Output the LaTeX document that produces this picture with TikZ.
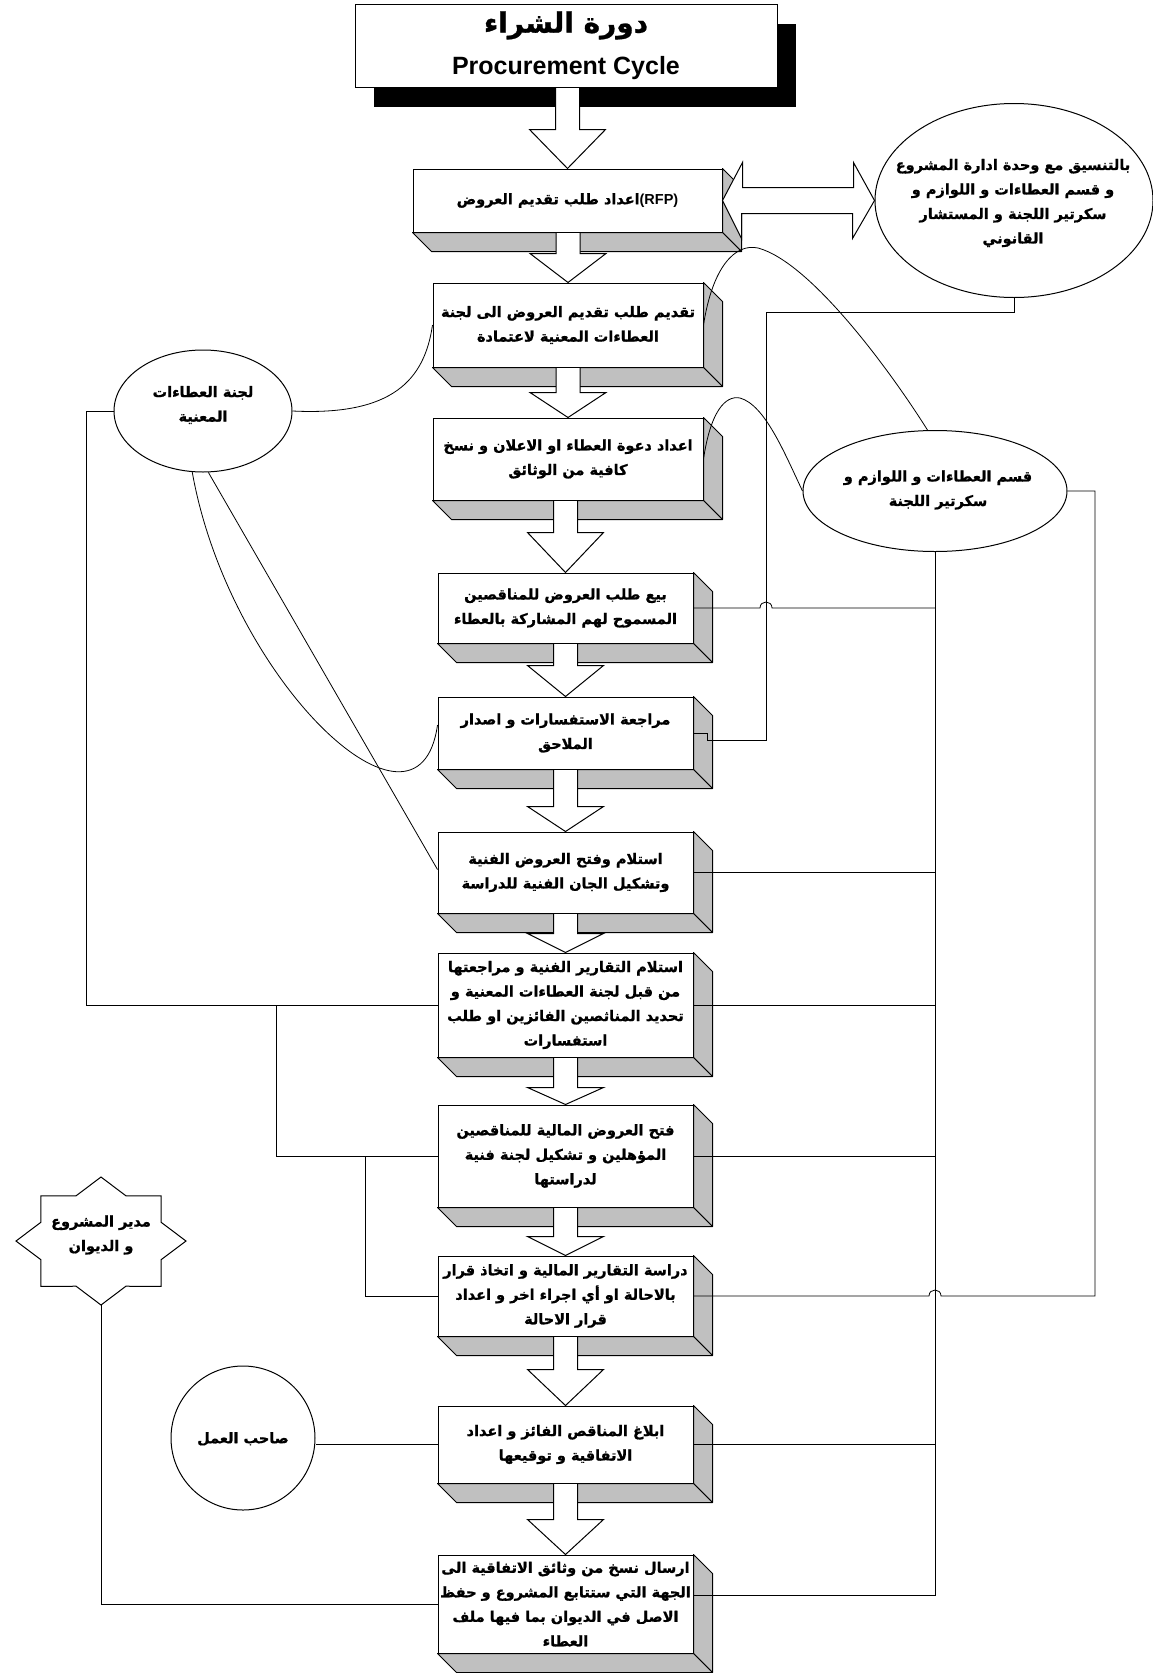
\documentclass[tikz,border=0pt]{standalone}
\usepackage{fontspec}
\setmainfont{Liberation Sans}
\newfontfamily\arabicfont[Script=Arabic, BoldFeatures={FakeBold=1}]{DejaVu Sans}
\TeXXeTstate=1
\usetikzlibrary{shapes.geometric,calc,shadows}
\newcommand{\rl}[1]{\beginR #1\endR}
\newcommand{\boxfont}{\arabicfont\bfseries\fontsize{14.5}{24.5}\selectfont}
\definecolor{facegray}{RGB}{192,192,192}
\tikzset{
  stepbox/.style={draw, fill=white, line width=1pt, inner sep=0pt, align=center, font=\boxfont},
  titlest/.style={draw, fill=white, line width=1pt, inner sep=0pt, align=center,
    drop shadow={fill=black, opacity=1, shadow xshift=19pt, shadow yshift=-20pt}},
  facest/.style={draw, fill=facegray, line width=1pt, line join=round},
  arrst/.style={draw, fill=white, line width=1pt},
  conn/.style={draw, line width=0.8pt},
  ellst/.style={draw, ellipse, line width=1pt, inner sep=0pt},
  elltext/.style={inner sep=0pt, align=center, font=\boxfont},
}
\newcommand{\faces}[1]{%
  \draw[facest] (#1.north east) -- ++(19,19) -- ($(#1.south east)+(19,19)$) -- (#1.south east) -- cycle;
  \draw[facest] (#1.south west) -- ++(19,19) -- ($(#1.south east)+(19,19)$) -- (#1.south east) -- cycle;
}
\newcommand{\barrow}[3]{%
  \draw[arrst] let \p1=(#1.south), \p2=(#2.north) in
   (\x2-12pt,\y1-0.6pt) -- (\x2-12pt,\y2+#3pt) -- (\x2-38pt,\y2+#3pt) -- (\x2,\y2)
   -- (\x2+38pt,\y2+#3pt) -- (\x2+12pt,\y2+#3pt) -- (\x2+12pt,\y1-0.6pt);
}
\begin{document}
\begin{tikzpicture}[x=1pt,y=-1pt]
\useasboundingbox (0,0) rectangle (1153,1673);
\fill[white] (0,0) rectangle (1153,1673);

% title
\node[titlest, minimum width=422pt, minimum height=83pt] (title) at (566,45.5)
  {{\arabicfont\bfseries\fontsize{28}{28}\selectfont\rl{دورة الشراء}}\\[16pt]{\bfseries\fontsize{25}{28}\selectfont Procurement Cycle}};

% process boxes
\node[stepbox, minimum width=309pt, minimum height=63pt] (b1) at (567.5,200.5)
  {\rl{اعداد طلب تقديم العروض}{\rmfamily\bfseries (RFP)}};
\node[stepbox, minimum width=270pt, minimum height=84pt] (b2) at (568,325)
  {\rl{تقديم طلب تقديم العروض الى لجنة}\\\rl{العطاءات المعنية لاعتمادة}};
\node[stepbox, minimum width=270pt, minimum height=82pt] (b3) at (568,459)
  {\rl{اعداد دعوة العطاء او الاعلان و نسخ}\\\rl{كافية من الوثائق}};
\node[stepbox, minimum width=255pt, minimum height=70pt] (b4) at (565.5,608)
  {\rl{بيع طلب العروض للمناقصين}\\\rl{المسموح لهم المشاركة بالعطاء}};
\node[stepbox, minimum width=255pt, minimum height=72pt] (b5) at (565.5,733)
  {\rl{مراجعة الاستفسارات و اصدار}\\\rl{الملاحق}};
\node[stepbox, minimum width=255pt, minimum height=81pt] (b6) at (565.5,872.5)
  {\rl{استلام وفتح العروض الفنية}\\\rl{وتشكيل الجان الفنية للدراسة}};
\node[stepbox, minimum width=255pt, minimum height=104pt] (b7) at (565.5,1005)
  {\rl{استلام التقارير الفنية  و مراجعتها}\\\rl{من قبل لجنة العطاءات المعنية و}\\\rl{تحديد المناثصين الفائزين او طلب}\\\rl{استفسارات}};
\node[stepbox, minimum width=255pt, minimum height=102pt] (b8) at (565.5,1156)
  {\rl{فتح العروض المالية للمناقصين}\\\rl{المؤهلين و تشكيل لجنة فنية}\\\rl{لدراستها}};
\node[stepbox, minimum width=255pt, minimum height=80pt] (b9) at (565.5,1296)
  {\rl{دراسة التقارير المالية و اتخاذ قرار}\\\rl{بالاحالة او أي اجراء اخر و اعداد}\\\rl{قرار الاحالة}};
\node[stepbox, minimum width=255pt, minimum height=77pt] (b10) at (565.5,1444.5)
  {\rl{ابلاغ المناقص الفائز و اعداد}\\\rl{الاتفاقية و توقيعها}};
\node[stepbox, minimum width=255pt, minimum height=98pt] (b11) at (565.5,1604)
  {\rl{ارسال نسخ من وثائق الاتفاقية الى}\\\rl{الجهة التي ستتابع المشروع و حفظ}\\\rl{الاصل في الديوان بما فيها ملف}\\\rl{العطاء}};

\foreach \b in {b1,b2,b3,b4,b5,b6,b7,b8,b9,b10,b11} {\faces{\b}}

% block arrows
\barrow{title}{b1}{39}
\barrow{b1}{b2}{29}
\barrow{b2}{b3}{25}
\barrow{b3}{b4}{40}
\barrow{b4}{b5}{31}
\barrow{b5}{b6}{25}
\barrow{b6}{b7}{19}
\barrow{b7}{b8}{17}
\barrow{b8}{b9}{19}
\barrow{b9}{b10}{36}
\barrow{b10}{b11}{35}

% side shapes
\node[ellst, minimum width=278pt, minimum height=194pt] (e1) at (1014,200.5) {};
\node[ellst, minimum width=178pt, minimum height=122pt] (e2) at (203,411) {};
\node[ellst, minimum width=264pt, minimum height=121pt] (e3) at (935,491) {};
\node[draw, circle, line width=1pt, minimum size=144pt, inner sep=0pt] (circ) at (243,1438) {};
\draw[line width=1pt, fill=white] (101,1177)
  \foreach \i in {1,...,15} { -- ({101+85*(mod(\i,2)==0?1:0.765)*sin(\i*22.5)}, {1241-64*(mod(\i,2)==0?1:0.765)*cos(\i*22.5)}) } -- cycle;
\coordinate (stars) at (101,1305);

% double block arrow
\draw[arrst] (b1.east) -- ++(20,-38) -- ++(0,25) -- ++(111,0) -- ++(0,-25) -- (e1.west)
  -- ++(-22,38) -- ++(0,-25) -- ++(-111,0) -- ++(0,25) -- cycle;

% connectors
\draw[conn] (e2.west) -- ++(-27,0) |- (b7.west);
\draw[conn] (b7.west) ++(-161,0) |- (b8.west);
\draw[conn] (b8.west) ++(-72,0) |- (b9.west);
\draw[conn] (e2.east) .. controls +(100,5) and +(-8,55) .. (b2.west);
\draw[conn] (e2.-100) .. controls +(37,208) and +(-19,135) .. ([yshift=8pt]b5.west);
\draw[conn] (e2.-85) -- ([yshift=3pt]b6.west);
\draw[conn] (b2.east) .. controls +(9,-58) and +(-23,-5) .. (758,248) .. controls +(52,14) and +(-39,-62) .. (e3.97);
\draw[conn] (b3.east) .. controls +(7,-47) and +(-15,-3) .. (740,398) .. controls +(25,7) and +(-18,-38) .. (e3.west);
\draw[conn] (e1.south) |- (766,312) |- (707,740) |- (b5.east);
\draw[conn] (e3.south) |- ([yshift=9pt]b11.east);
\draw[conn] (b4.east) -- (760,608) .. controls (760,600) and (772,600) .. (772,608) -- (b4.east -| e3.south);
\draw[conn] (b6.east) -- (b6.east -| e3.south);
\draw[conn] (b7.east) -- (b7.east -| e3.south);
\draw[conn] (b8.east) -- (b8.east -| e3.south);
\draw[conn] (b10.east) -- (b10.east -| e3.south);
\draw[conn] (b9.east) -- (929,1296) .. controls (929,1288) and (941,1288) .. (941,1296) -- (1095,1296) |- (e3.east);
\draw[conn] (stars) |- (b11.west);
\draw[conn] (b10.west) -- (b10.west -| circ.east);

% texts of side shapes
\node[elltext] (e1t) at (1013,203) {\rl{بالتنسيق مع وحدة ادارة المشروع}\\\rl{و قسم العطاءات و اللوازم و}\\\rl{سكرتير اللجنة و المستشار}\\\rl{القانوني}};
\node[elltext] (e2t) at (203,405) {\rl{لجنة العطاءات}\\\rl{المعنية}};
\node[elltext] (e3t) at (938,490) {\rl{قسم العطاءات و اللوازم و}\\\rl{سكرتير اللجنة}};
\node[elltext] (circt) at (243,1439) {\rl{صاحب العمل}};
\node[elltext] (start) at (101,1235) {\rl{مدير المشروع}\\\rl{و الديوان}};
\end{tikzpicture}
\end{document}
